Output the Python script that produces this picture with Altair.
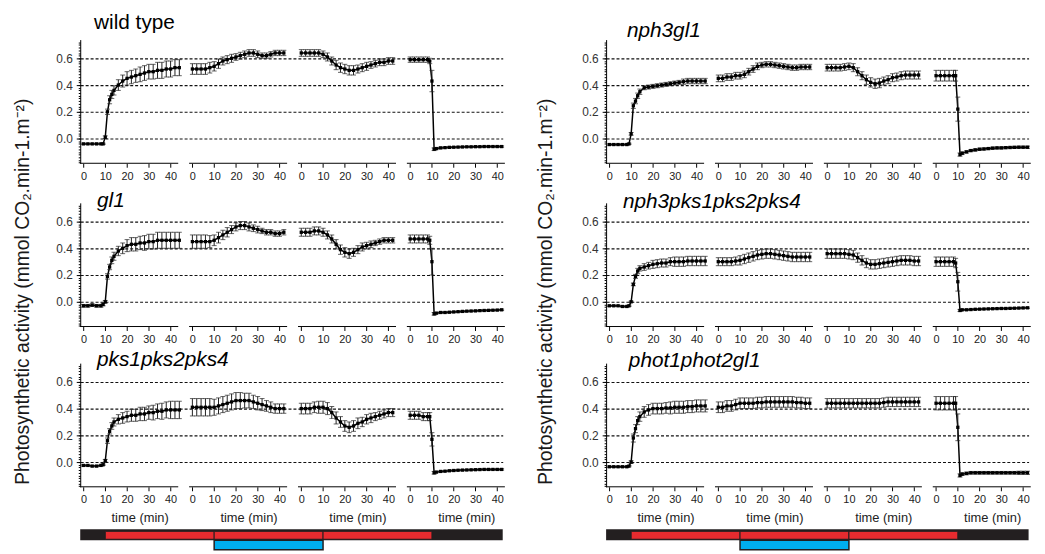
import altair as alt
import pandas as pd

FONT = "Liberation Sans"

# ---------------- data ----------------
# sampling times (min) inside each of the four recording segments
T1 = [0, 2, 4, 6, 8, 9, 10, 11, 12, 13, 14, 16, 18, 20, 22, 24, 26, 28, 30, 32, 34, 36, 38, 40, 42, 44]
T2 = [0, 2, 4, 6, 8, 10, 12, 14, 16, 18, 20, 22, 24, 26, 28, 30, 32, 34, 36, 38, 40, 42]
T3 = [0, 2, 4, 6, 8, 10, 12, 14, 16, 18, 20, 22, 24, 26, 28, 30, 32, 34, 36, 38, 40, 42]
T4 = [0, 2, 4, 6, 8, 9, 10, 11, 12, 14, 16, 18, 20, 22, 24, 26, 28, 30, 32, 34, 36, 38, 40, 42]
TIMES = [T1, T2, T3, T4]

TICK_MIN = [0, 10, 20, 30, 40]
Y_TICKS = [0.0, 0.2, 0.4, 0.6]

WT_MEAN = [
    [-0.04, -0.04, -0.04, -0.04, -0.04, -0.04, 0.01, 0.2, 0.29, 0.33, 0.36, 0.4, 0.43, 0.45, 0.46, 0.47, 0.48, 0.49, 0.5, 0.5, 0.51, 0.51, 0.52, 0.52, 0.53, 0.53],
    [0.52, 0.52, 0.52, 0.52, 0.53, 0.54, 0.56, 0.58, 0.59, 0.6, 0.61, 0.62, 0.63, 0.64, 0.64, 0.63, 0.62, 0.62, 0.63, 0.64, 0.64, 0.64],
    [0.64, 0.64, 0.64, 0.64, 0.64, 0.63, 0.61, 0.58, 0.55, 0.53, 0.52, 0.51, 0.51, 0.52, 0.53, 0.54, 0.55, 0.56, 0.57, 0.57, 0.58, 0.58],
    [0.59, 0.59, 0.59, 0.59, 0.59, 0.58, 0.43, -0.08, -0.075, -0.07, -0.068, -0.066, -0.065, -0.064, -0.063, -0.062, -0.062, -0.061, -0.061, -0.06, -0.06, -0.06, -0.06, -0.06],
]
WT_ERR = [
    [0.005, 0.005, 0.005, 0.005, 0.005, 0.005, 0.01, 0.02, 0.03, 0.03, 0.035, 0.04, 0.045, 0.05, 0.05, 0.05, 0.055, 0.055, 0.055, 0.055, 0.06, 0.06, 0.06, 0.06, 0.06, 0.06],
    [0.04, 0.04, 0.04, 0.04, 0.04, 0.035, 0.035, 0.03, 0.03, 0.03, 0.025, 0.025, 0.025, 0.025, 0.025, 0.025, 0.02, 0.02, 0.02, 0.02, 0.02, 0.02],
    [0.025, 0.025, 0.025, 0.025, 0.025, 0.025, 0.03, 0.03, 0.035, 0.035, 0.035, 0.035, 0.035, 0.03, 0.03, 0.03, 0.025, 0.025, 0.025, 0.025, 0.025, 0.025],
    [0.02, 0.02, 0.02, 0.02, 0.02, 0.02, 0.08, 0.01, 0.008, 0.006, 0.005, 0.005, 0.005, 0.005, 0.005, 0.005, 0.005, 0.005, 0.005, 0.005, 0.005, 0.005, 0.005, 0.005],
]

GL1_MEAN = [
    [-0.03, -0.03, -0.025, -0.03, -0.03, -0.02, 0.0, 0.19, 0.26, 0.31, 0.34, 0.38, 0.4, 0.42, 0.43, 0.43, 0.44, 0.44, 0.45, 0.45, 0.46, 0.46, 0.46, 0.46, 0.46, 0.46],
    [0.45, 0.45, 0.45, 0.45, 0.45, 0.46, 0.48, 0.5, 0.52, 0.54, 0.56, 0.57, 0.57, 0.56, 0.55, 0.54, 0.53, 0.52, 0.52, 0.51, 0.51, 0.52],
    [0.52, 0.52, 0.52, 0.53, 0.53, 0.52, 0.5, 0.47, 0.43, 0.39, 0.37, 0.36, 0.37, 0.39, 0.41, 0.42, 0.43, 0.44, 0.45, 0.46, 0.46, 0.46],
    [0.47, 0.47, 0.47, 0.47, 0.47, 0.46, 0.3, -0.09, -0.085, -0.08, -0.08, -0.078, -0.076, -0.074, -0.072, -0.07, -0.069, -0.068, -0.066, -0.065, -0.064, -0.063, -0.062, -0.06],
]
GL1_ERR = [
    [0.01, 0.01, 0.01, 0.01, 0.01, 0.01, 0.01, 0.02, 0.02, 0.025, 0.03, 0.035, 0.04, 0.045, 0.05, 0.05, 0.05, 0.055, 0.055, 0.055, 0.06, 0.06, 0.06, 0.06, 0.06, 0.06],
    [0.05, 0.05, 0.05, 0.05, 0.045, 0.04, 0.04, 0.035, 0.035, 0.03, 0.03, 0.03, 0.03, 0.03, 0.025, 0.025, 0.02, 0.02, 0.02, 0.02, 0.02, 0.02],
    [0.03, 0.03, 0.03, 0.03, 0.03, 0.03, 0.03, 0.03, 0.035, 0.035, 0.035, 0.035, 0.03, 0.03, 0.03, 0.025, 0.025, 0.02, 0.02, 0.02, 0.02, 0.02],
    [0.03, 0.03, 0.03, 0.03, 0.03, 0.03, 0.1, 0.01, 0.006, 0.005, 0.005, 0.005, 0.005, 0.005, 0.005, 0.005, 0.005, 0.005, 0.005, 0.005, 0.005, 0.005, 0.005, 0.005],
]

PKS_MEAN = [
    [-0.025, -0.025, -0.03, -0.03, -0.025, -0.02, 0.01, 0.16, 0.23, 0.27, 0.3, 0.32, 0.33, 0.34, 0.35, 0.35, 0.36, 0.36, 0.37, 0.37, 0.38, 0.38, 0.39, 0.39, 0.39, 0.39],
    [0.41, 0.41, 0.41, 0.41, 0.41, 0.41, 0.42, 0.43, 0.44, 0.45, 0.46, 0.46, 0.46, 0.46, 0.45, 0.44, 0.43, 0.42, 0.41, 0.4, 0.4, 0.4],
    [0.4, 0.4, 0.4, 0.41, 0.41, 0.41, 0.4, 0.37, 0.33, 0.3, 0.27, 0.26, 0.27, 0.29, 0.3, 0.32, 0.33, 0.34, 0.35, 0.36, 0.37, 0.37],
    [0.35, 0.35, 0.35, 0.34, 0.34, 0.34, 0.17, -0.08, -0.075, -0.07, -0.068, -0.065, -0.063, -0.061, -0.06, -0.059, -0.058, -0.057, -0.056, -0.055, -0.055, -0.055, -0.055, -0.055],
]
PKS_ERR = [
    [0.005, 0.005, 0.005, 0.005, 0.005, 0.005, 0.01, 0.02, 0.02, 0.025, 0.03, 0.035, 0.04, 0.04, 0.045, 0.045, 0.05, 0.05, 0.05, 0.055, 0.055, 0.06, 0.06, 0.065, 0.065, 0.065],
    [0.065, 0.065, 0.065, 0.065, 0.065, 0.06, 0.06, 0.06, 0.06, 0.06, 0.06, 0.06, 0.055, 0.055, 0.05, 0.05, 0.045, 0.04, 0.04, 0.035, 0.035, 0.035],
    [0.04, 0.04, 0.04, 0.04, 0.045, 0.045, 0.045, 0.045, 0.045, 0.04, 0.04, 0.04, 0.04, 0.04, 0.035, 0.035, 0.035, 0.03, 0.03, 0.03, 0.03, 0.03],
    [0.03, 0.03, 0.03, 0.03, 0.03, 0.03, 0.05, 0.01, 0.005, 0.005, 0.005, 0.005, 0.005, 0.005, 0.005, 0.005, 0.005, 0.005, 0.005, 0.005, 0.005, 0.005, 0.005, 0.005],
]

NPH3GL1_MEAN = [
    [-0.045, -0.045, -0.045, -0.045, -0.045, -0.04, 0.035, 0.245, 0.28, 0.32, 0.35, 0.38, 0.385, 0.39, 0.395, 0.4, 0.405, 0.41, 0.415, 0.42, 0.425, 0.43, 0.43, 0.43, 0.43, 0.43],
    [0.45, 0.45, 0.46, 0.46, 0.47, 0.47, 0.48, 0.5, 0.52, 0.54, 0.55, 0.555, 0.555, 0.55, 0.545, 0.54, 0.535, 0.53, 0.53, 0.535, 0.535, 0.535],
    [0.53, 0.53, 0.53, 0.53, 0.535, 0.54, 0.53, 0.5, 0.47, 0.44, 0.42, 0.41, 0.415, 0.43, 0.44, 0.455, 0.46, 0.47, 0.475, 0.475, 0.475, 0.475],
    [0.47, 0.47, 0.47, 0.47, 0.47, 0.47, 0.22, -0.12, -0.11, -0.1, -0.09, -0.085, -0.08, -0.078, -0.075, -0.072, -0.07, -0.07, -0.068, -0.067, -0.066, -0.065, -0.065, -0.065],
]
NPH3GL1_ERR = [
    [0.005, 0.005, 0.005, 0.005, 0.005, 0.005, 0.01, 0.02, 0.02, 0.02, 0.02, 0.015, 0.015, 0.015, 0.015, 0.015, 0.015, 0.015, 0.015, 0.015, 0.02, 0.02, 0.02, 0.02, 0.02, 0.02],
    [0.025, 0.025, 0.025, 0.025, 0.025, 0.025, 0.025, 0.025, 0.025, 0.025, 0.02, 0.02, 0.02, 0.02, 0.02, 0.02, 0.02, 0.02, 0.02, 0.02, 0.02, 0.02],
    [0.025, 0.025, 0.025, 0.025, 0.025, 0.025, 0.03, 0.03, 0.03, 0.035, 0.035, 0.035, 0.035, 0.03, 0.03, 0.03, 0.03, 0.03, 0.03, 0.03, 0.03, 0.03],
    [0.04, 0.04, 0.04, 0.04, 0.04, 0.04, 0.09, 0.012, 0.01, 0.008, 0.008, 0.008, 0.008, 0.008, 0.008, 0.008, 0.008, 0.008, 0.008, 0.008, 0.008, 0.008, 0.008, 0.008],
]

NPH3PKS_MEAN = [
    [-0.03, -0.03, -0.03, -0.035, -0.035, -0.03, 0.0, 0.13, 0.19, 0.23, 0.25, 0.26, 0.27, 0.28, 0.285, 0.29, 0.29, 0.3, 0.3, 0.3, 0.3, 0.305, 0.305, 0.305, 0.305, 0.305],
    [0.3, 0.3, 0.3, 0.3, 0.305, 0.31, 0.32, 0.33, 0.34, 0.35, 0.355, 0.36, 0.36, 0.355, 0.35, 0.345, 0.34, 0.335, 0.335, 0.335, 0.335, 0.335],
    [0.36, 0.36, 0.36, 0.36, 0.36, 0.355, 0.35, 0.33, 0.31, 0.29, 0.28, 0.28, 0.285, 0.29, 0.295, 0.3, 0.305, 0.31, 0.31, 0.31, 0.305, 0.305],
    [0.3, 0.3, 0.3, 0.3, 0.3, 0.29, 0.15, -0.065, -0.06, -0.06, -0.058, -0.056, -0.055, -0.054, -0.053, -0.052, -0.051, -0.05, -0.05, -0.049, -0.048, -0.047, -0.046, -0.045],
]
NPH3PKS_ERR = [
    [0.005, 0.005, 0.005, 0.005, 0.005, 0.005, 0.005, 0.01, 0.015, 0.02, 0.02, 0.025, 0.025, 0.03, 0.03, 0.03, 0.03, 0.03, 0.035, 0.035, 0.035, 0.035, 0.035, 0.035, 0.035, 0.035],
    [0.03, 0.03, 0.03, 0.03, 0.03, 0.035, 0.035, 0.035, 0.035, 0.035, 0.035, 0.035, 0.035, 0.035, 0.035, 0.035, 0.035, 0.035, 0.035, 0.035, 0.035, 0.035],
    [0.035, 0.035, 0.035, 0.035, 0.035, 0.035, 0.035, 0.035, 0.035, 0.035, 0.035, 0.035, 0.035, 0.035, 0.035, 0.035, 0.035, 0.035, 0.035, 0.035, 0.035, 0.035],
    [0.035, 0.035, 0.035, 0.035, 0.035, 0.035, 0.07, 0.008, 0.006, 0.005, 0.005, 0.005, 0.005, 0.005, 0.005, 0.005, 0.005, 0.005, 0.005, 0.005, 0.005, 0.005, 0.005, 0.005],
]

PHOT_MEAN = [
    [-0.035, -0.035, -0.035, -0.035, -0.035, -0.03, 0.0, 0.18, 0.25, 0.31, 0.34, 0.375, 0.39, 0.4, 0.4, 0.4, 0.405, 0.405, 0.41, 0.41, 0.41, 0.415, 0.415, 0.42, 0.42, 0.42],
    [0.41, 0.41, 0.42, 0.42, 0.43, 0.44, 0.44, 0.44, 0.44, 0.445, 0.445, 0.45, 0.45, 0.45, 0.45, 0.45, 0.45, 0.45, 0.445, 0.445, 0.44, 0.44],
    [0.44, 0.44, 0.44, 0.44, 0.44, 0.44, 0.44, 0.44, 0.44, 0.44, 0.44, 0.44, 0.44, 0.445, 0.45, 0.45, 0.45, 0.45, 0.45, 0.45, 0.45, 0.45],
    [0.44, 0.44, 0.44, 0.44, 0.44, 0.44, 0.26, -0.1, -0.09, -0.085, -0.08, -0.08, -0.08, -0.08, -0.08, -0.08, -0.08, -0.08, -0.08, -0.08, -0.08, -0.08, -0.08, -0.08],
]
PHOT_ERR = [
    [0.005, 0.005, 0.005, 0.005, 0.005, 0.005, 0.01, 0.03, 0.03, 0.03, 0.035, 0.04, 0.04, 0.04, 0.04, 0.04, 0.04, 0.045, 0.045, 0.045, 0.045, 0.045, 0.045, 0.045, 0.045, 0.045],
    [0.04, 0.04, 0.04, 0.04, 0.04, 0.04, 0.04, 0.04, 0.04, 0.04, 0.04, 0.04, 0.04, 0.04, 0.04, 0.04, 0.04, 0.04, 0.04, 0.04, 0.04, 0.04],
    [0.035, 0.035, 0.035, 0.035, 0.035, 0.035, 0.035, 0.035, 0.035, 0.035, 0.035, 0.035, 0.035, 0.035, 0.035, 0.035, 0.035, 0.035, 0.035, 0.035, 0.035, 0.035],
    [0.05, 0.05, 0.05, 0.05, 0.05, 0.05, 0.1, 0.012, 0.01, 0.01, 0.01, 0.01, 0.01, 0.01, 0.01, 0.01, 0.01, 0.01, 0.01, 0.01, 0.01, 0.012, 0.012, 0.012],
]

# light regime: (segment, minute) at which each light goes on / off
RED_ON, BLUE_ON, BLUE_OFF, RED_OFF = (0, 10), (1, 10), (2, 10), (3, 10)

Y_TITLE = "Photosynthetic activity (mmol CO\u2082.min-1.m\u207b\u00b2)"

# ---------------- layout ----------------
PLOT_W = 427
PLOT_H = 125
SEG_SHIFT = 50
X_DOMAIN = [-1.5, 192.5]
Y_DOMAIN = [-0.185, 0.74]
AXIS_SPAN = (-1.5, 43.5)

xs = alt.Scale(domain=X_DOMAIN, nice=False, zero=False)
ys = alt.Scale(domain=Y_DOMAIN, nice=False, zero=False)
X_TICK_VALUES = [k * SEG_SHIFT + v for k in range(4) for v in TICK_MIN]
MINOR = [round(-0.18 + 0.02 * i, 2) for i in range(46)]

X_AXIS = alt.Axis(values=X_TICK_VALUES, labelExpr="datum.value % 50",
                  domain=False, grid=False, ticks=True, tickSize=4,
                  tickColor="black", tickWidth=1, labelFontSize=11,
                  labelColor="#222", labelPadding=3, labelFont=FONT,
                  labelFlush=False, labelOverlap=False, title=None,
                  orient="bottom")


def abs_time(seg_min):
    return seg_min[0] * SEG_SHIFT + seg_min[1]


def build_df(means, errs):
    rows = []
    for k, (ts, ms, es) in enumerate(zip(TIMES, means, errs)):
        assert len(ts) == len(ms) == len(es), (k, len(ts), len(ms), len(es))
        for t, m, e in zip(ts, ms, es):
            rows.append({"seg": k, "x": k * SEG_SHIFT + t, "mean": m,
                         "lo": m - e, "hi": m + e})
    return pd.DataFrame(rows)


def panel(name, means, errs, italic, tdx, tdy, time_titles=False, ytitle=None):
    df = build_df(means, errs)
    seg_df = pd.DataFrame({"seg": list(range(4))})
    seg_df["a"] = seg_df["seg"] * SEG_SHIFT + AXIS_SPAN[0]
    seg_df["b"] = seg_df["seg"] * SEG_SHIFT + AXIS_SPAN[1]
    seg_df["c"] = seg_df["seg"] * SEG_SHIFT + 26

    y_major = alt.Axis(values=Y_TICKS, format=".1f", orient="left",
                       domain=True, domainColor="black", domainWidth=1,
                       ticks=True, tickSize=4, tickColor="black",
                       labelFontSize=12, labelColor="#333", labelPadding=4,
                       labelFont=FONT, grid=True, gridColor="#111",
                       gridDash=[3, 2], gridWidth=1.1, title=None)
    y_minor = alt.Axis(values=MINOR, orient="left", domain=False, ticks=True,
                       tickSize=2, tickColor="black", labels=False,
                       grid=False, title=None)

    X = alt.X("x:Q", scale=xs, axis=X_AXIS)
    line = alt.Chart(df).mark_line(color="black", strokeWidth=1.5).encode(
        x=X, y=alt.Y("mean:Q", scale=ys, axis=y_major), detail="seg:N")
    bars = alt.Chart(df).mark_rule(color="#222", strokeWidth=1).encode(
        x=X, y=alt.Y("lo:Q", scale=ys, axis=y_minor), y2="hi:Q")
    caps = alt.Chart(df).transform_fold(["lo", "hi"], as_=["end", "v"]).mark_tick(
        orient="horizontal", size=5, thickness=1, color="#222").encode(
        x=X, y=alt.Y("v:Q", scale=ys, axis=None))
    pts = alt.Chart(df).mark_square(size=11, color="black", opacity=1).encode(
        x=X, y=alt.Y("mean:Q", scale=ys, axis=None))
    seg_axis = alt.Chart(seg_df).mark_rule(color="black", strokeWidth=1).encode(
        x=alt.X("a:Q", scale=xs, axis=X_AXIS), x2="b:Q", y=alt.value(PLOT_H))
    title = alt.Chart(pd.DataFrame({"t": [name]})).mark_text(
        align="left", baseline="alphabetic", fontSize=21, font=FONT,
        fontStyle="italic" if italic else "normal", color="black").encode(
        text="t:N", x=alt.value(tdx), y=alt.value(tdy))
    layers = [line, bars, caps, pts, seg_axis, title]
    if time_titles:
        layers.append(alt.Chart(seg_df).mark_text(
            fontSize=13, font=FONT, color="#222", baseline="middle").encode(
            x=alt.X("c:Q", scale=xs, axis=X_AXIS), y=alt.value(PLOT_H + 32),
            text=alt.value("time (min)")))
    if ytitle is not None:
        ydx, ydy = ytitle
        layers.append(alt.Chart(pd.DataFrame({"t": [Y_TITLE]})).mark_text(
            angle=270, align="center", baseline="middle", fontSize=19.5,
            font=FONT, color="#1a1a1a").encode(
            text="t:N", x=alt.value(ydx), y=alt.value(ydy)))
    return alt.layer(*layers).resolve_axis(y="independent").properties(
        width=PLOT_W, height=PLOT_H)


def light_bar():
    dark = pd.DataFrame({"a": [X_DOMAIN[0]], "b": [X_DOMAIN[1]]})
    edges = [abs_time(RED_ON), abs_time(BLUE_ON), abs_time(BLUE_OFF), abs_time(RED_OFF)]
    red = pd.DataFrame({"a": edges[:-1], "b": edges[1:]})
    blue = pd.DataFrame({"a": [abs_time(BLUE_ON)], "b": [abs_time(BLUE_OFF)]})
    X = alt.X("a:Q", scale=xs, axis=None)
    l1 = alt.Chart(dark).mark_rect(color="#231f20").encode(
        x=X, x2="b:Q", y=alt.value(0), y2=alt.value(11))
    l2 = alt.Chart(red).mark_rect(fill="#e72b2f", stroke="#231f20", strokeWidth=1).encode(
        x=X, x2="b:Q", y=alt.value(2), y2=alt.value(10))
    l3 = alt.Chart(blue).mark_rect(fill="#00aeef", stroke="#231f20", strokeWidth=1.5).encode(
        x=X, x2="b:Q", y=alt.value(11), y2=alt.value(20.5))
    return alt.layer(l1, l2, l3).properties(width=PLOT_W, height=21)


def spacer(h):
    return alt.Chart(pd.DataFrame({"a": [0]})).mark_rule(opacity=0).encode(
        x=alt.value(0), y=alt.value(0)).properties(width=PLOT_W, height=h)


cells = [
    panel("wild type", WT_MEAN, WT_ERR, False, 14, -11),
    panel("nph3gl1", NPH3GL1_MEAN, NPH3GL1_ERR, True, 21, -3),
    spacer(39.5), spacer(39.5),
    panel("gl1", GL1_MEAN, GL1_ERR, True, 17, 4, ytitle=(-57.7, 89.8)),
    panel("nph3pks1pks2pks4", NPH3PKS_MEAN, NPH3PKS_ERR, True, 17, 5, ytitle=(-61, 89.8)),
    spacer(36.15), spacer(36.15),
    panel("pks1pks2pks4", PKS_MEAN, PKS_ERR, True, 17, 3, time_titles=True),
    panel("phot1phot2gl1", PHOT_MEAN, PHOT_ERR, True, 23, 4, time_titles=True),
    spacer(43), spacer(43),
    light_bar(), light_bar(),
]

chart = alt.concat(*cells, columns=2, spacing={"row": 0, "column": 104.5},
                   bounds="flush").configure_view(stroke=None).configure_axis(
    labelFont=FONT).properties(
    padding={"left": 5, "top": 1, "right": 5, "bottom": 2}, background="white")

chart.save("out.html", embed_options={"renderer": "svg", "actions": False})
